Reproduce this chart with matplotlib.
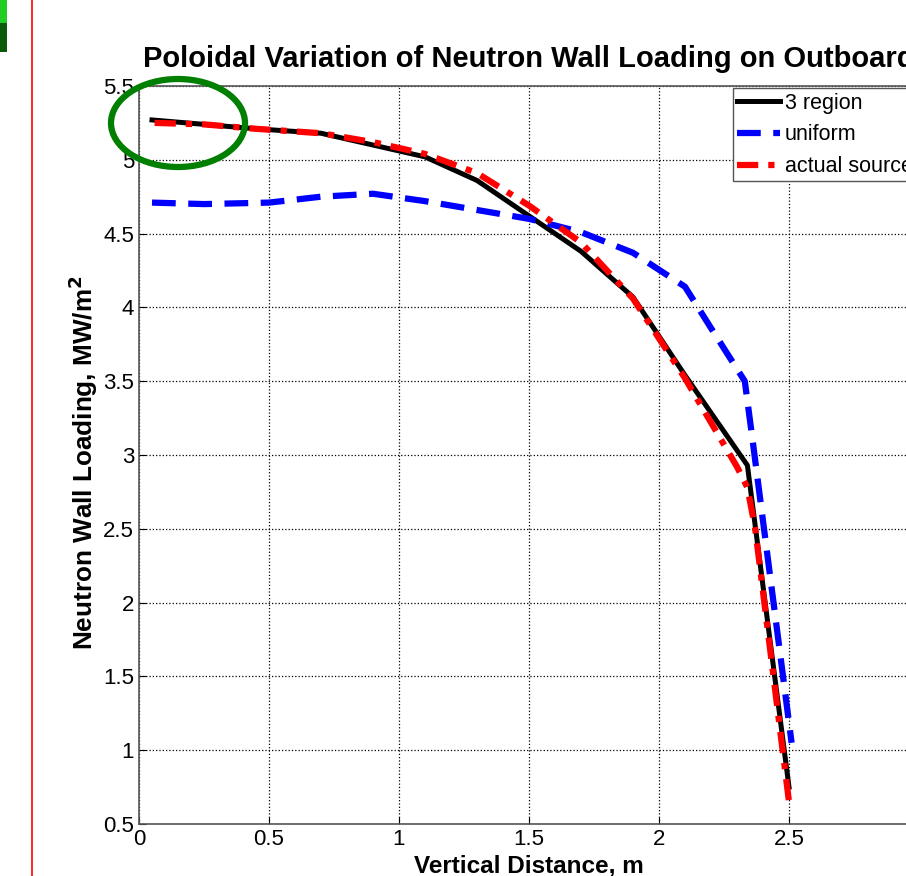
import numpy as np
import matplotlib
matplotlib.use('Agg')
import matplotlib.pyplot as plt
from matplotlib.patches import Ellipse, Rectangle
from matplotlib.lines import Line2D

plt.rcParams['font.family'] = ['Liberation Sans', 'DejaVu Sans']

# %% Dados

x_3reg = [0.05, 0.25, 0.45, 0.70, 0.90, 1.10, 1.30, 1.50, 1.70, 1.90, 2.10, 2.34, 2.50]
y_3reg = [5.27, 5.24, 5.21, 5.18, 5.10, 5.02, 4.86, 4.62, 4.38, 4.07, 3.54, 2.93, 0.75]

x_unif = [0.05, 0.25, 0.50, 0.70, 0.90, 1.10, 1.30, 1.50, 1.70, 1.90, 2.10, 2.20, 2.33, 2.36, 2.51]
y_unif = [4.71, 4.70, 4.71, 4.75, 4.77, 4.72, 4.66, 4.60, 4.51, 4.37, 4.14, 3.86, 3.50, 3.10, 1.05]

x_real = [0.06, 0.25, 0.45, 0.70, 0.90, 1.10, 1.30, 1.50, 1.70, 1.90, 2.10, 2.30, 2.34, 2.37, 2.50]
y_real = [5.25, 5.24, 5.21, 5.18, 5.12, 5.04, 4.91, 4.69, 4.44, 4.06, 3.52, 2.92, 2.78, 2.50, 0.65]

legenda = ['3 region', 'uniform', 'actual source']
xticks = [0, 0.5, 1, 1.5, 2, 2.5, 3]
xticklabels = ['0', '0.5', '1', '1.5', '2', '2.5', '']   # o "3" fica fora do recorte
yticks = [0.5, 1, 1.5, 2, 2.5, 3, 3.5, 4, 4.5, 5, 5.5]
yticklabels = ['0.5', '1', '1.5', '2', '2.5', '3', '3.5', '4', '4.5', '5', '5.5']

# %% Figura

fig = plt.figure(figsize=(9.06, 8.76), dpi=100)
ax = fig.add_axes([139/906, 52/876, 780/906, 738/876])

ax.plot(x_3reg, y_3reg, '-', color='black', linewidth=3.6, label=legenda[0])
ax.plot(x_unif, y_unif, '--', color='blue', linewidth=4.5, dashes=(3.8, 2.0), label=legenda[1])
ax.plot(x_real, y_real, '-.', color='red', linewidth=4.5, dashes=(3.4, 1.6, 1.0, 1.6), label=legenda[2])

ax.set_xlim(0, 3)
ax.set_ylim(0.5, 5.5)
ax.set_xticks(xticks)
ax.set_xticklabels(xticklabels)
ax.set_yticks(yticks)
ax.set_yticklabels(yticklabels)
ax.tick_params(direction='in', length=5, labelsize=16, colors='black')
ax.grid(True, linestyle=':', color='black', linewidth=0.9)
for s in ax.spines.values():
    s.set_color('#555555')
    s.set_linewidth(1.2)

ax.set_title('Poloidal Variation of Neutron Wall Loading on Outboard',
             fontsize=21, fontweight='bold', pad=14)
ax.set_xlabel('Vertical Distance, m', fontsize=17.5, fontweight='bold', labelpad=3)
ax.set_ylabel('Neutron Wall Loading, MW/m$^\\mathbf{2}$', fontsize=18.8, fontweight='bold')
ax.yaxis.set_label_coords(-0.05, 0.49)

leg = ax.legend(loc='upper left', bbox_to_anchor=(0.7615, 0.997), borderaxespad=0,
                fontsize=15.5, handlelength=2.0, handletextpad=0.2, labelspacing=0.5,
                fancybox=False, framealpha=1, edgecolor='#555555', borderpad=0.2)

# marcacao verde
ax.add_patch(Ellipse((178, 876 - 123), 134, 88, transform=None, fill=False,
                     edgecolor='#007f00', linewidth=4.5, zorder=10, clip_on=False))

# elementos da captura de tela
fig.add_artist(Line2D([32/906, 32/906], [0, 1], color='red', linewidth=1.2))
fig.add_artist(Rectangle((0, 1 - 23/876), 7/906, 23/876, color='#22cc22', linewidth=0))
fig.add_artist(Rectangle((0, 1 - 52/876), 7/906, 29/876, color='#0a5a0a', linewidth=0))

fig.savefig('out.png', dpi=100)
